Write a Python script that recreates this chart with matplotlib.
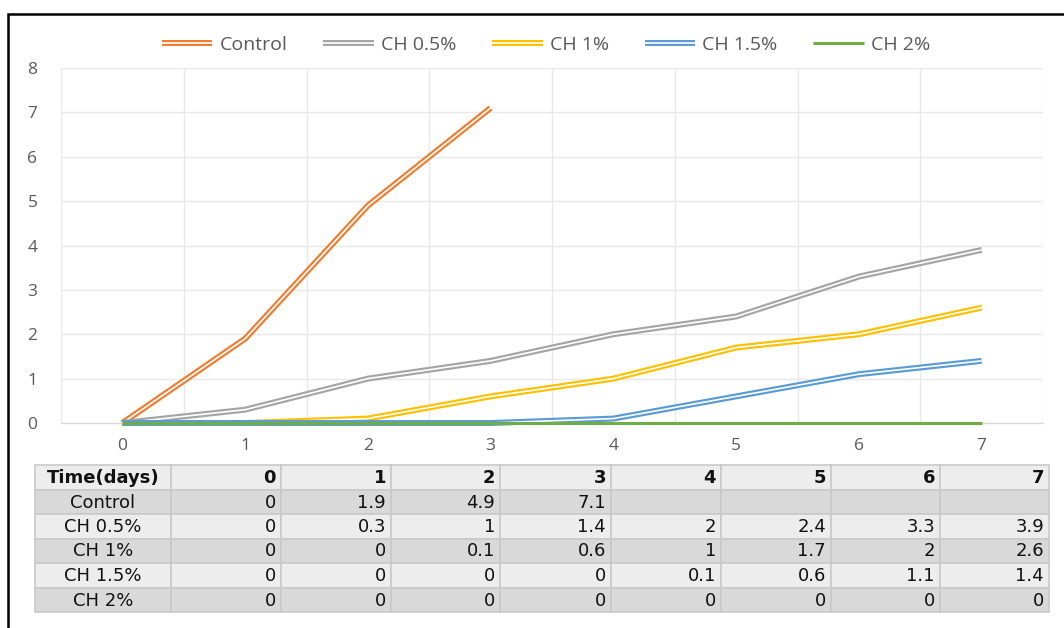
import numpy as np
import matplotlib
matplotlib.use("Agg")
import matplotlib.pyplot as plt
import matplotlib.patheffects as pe
from matplotlib.patches import Rectangle

days = [0, 1, 2, 3, 4, 5, 6, 7]
series_names = ["Control", "CH 0.5%", "CH 1%", "CH 1.5%", "CH 2%"]
control = [0, 1.9, 4.9, 7.1, None, None, None, None]
ch05 = [0, 0.3, 1, 1.4, 2, 2.4, 3.3, 3.9]
ch1 = [0, 0, 0.1, 0.6, 1, 1.7, 2, 2.6]
ch15 = [0, 0, 0, 0, 0.1, 0.6, 1.1, 1.4]
ch2 = [0, 0, 0, 0, 0, 0, 0, 0]
series_values = [control, ch05, ch1, ch15, ch2]
colors = ["#ED7D31", "#A5A5A5", "#FFC000", "#5B9BD5", "#70AD47"]
double_line = [True, True, True, True, False]
yticks = [0, 1, 2, 3, 4, 5, 6, 7, 8]
header_label = "Time(days)"

W, H = 1064, 628
fig = plt.figure(figsize=(W / 100, H / 100), dpi=100)
fig.patch.set_facecolor("white")

def fx(px):
    return px / W

def fy(py):
    return 1 - py / H

# plot area
left, right, top, bottom = 61, 1043, 68, 423
ax = fig.add_axes([fx(left), fy(bottom), fx(right - left), (bottom - top) / H])
ax.set_xlim(-0.5, 7.5)
ax.set_ylim(0, 8)

axis_gray = "#595959"
grid_gray = "#E8E8E8"
font_axis = ["Open Sans", "DejaVu Sans"]

for i, (name, vals, c, dbl) in enumerate(zip(series_names, series_values, colors, double_line)):
    y = np.array([np.nan if v is None else v for v in vals], dtype=float)
    if dbl:
        ax.plot(days, y, color="white", lw=1.2, label=name, zorder=3 + i,
                solid_capstyle="butt", clip_on=False,
                path_effects=[pe.Stroke(linewidth=4.3, foreground=c), pe.Normal()])
    else:
        ax.plot(days, y, color=c, lw=2.2, label=name, zorder=3 + i,
                solid_capstyle="butt", clip_on=False)

ax.set_yticks(yticks)
ax.set_xticks(days)
ax.set_xticks(np.arange(-0.5, 8, 1), minor=True)
ax.grid(True, axis="y", which="major", color=grid_gray, lw=1.0)
ax.grid(True, axis="x", which="minor", color=grid_gray, lw=1.0)
ax.grid(False, axis="x", which="major")
for s in ["top", "right", "left"]:
    ax.spines[s].set_visible(False)
ax.spines["bottom"].set_color("#D9D9D9")
ax.spines["bottom"].set_linewidth(1.0)
ax.spines["bottom"].set_zorder(1)
ax.tick_params(axis="both", which="both", length=0)
ax.tick_params(axis="y", pad=17, labelsize=12.5, labelcolor=axis_gray)
ax.tick_params(axis="x", pad=11, labelsize=12.5, labelcolor=axis_gray)
for lab in ax.get_xticklabels() + ax.get_yticklabels():
    lab.set_family(font_axis)

leg = fig.legend(loc="center", bbox_to_anchor=(fx(546), fy(45)), ncol=5, frameon=False,
                 handlelength=2.6, columnspacing=1.85, handletextpad=0.36,
                 prop={"family": font_axis, "size": 14})
for t in leg.get_texts():
    t.set_color(axis_gray)

# outer black border
fig.add_artist(Rectangle((fx(8), fy(660)), fx(1100), (660 - 14) / H, transform=fig.transFigure,
                         fill=False, ec="black", lw=1.8, zorder=10))

# data table
col_edges = [35, 171, 281, 391, 500, 611, 721, 831, 940, 1049]
row_edges = [465, 490, 514, 539, 563, 588, 612]
row_colors = ["#EDEDED", "#D9D9D9", "#EDEDED", "#D9D9D9", "#EDEDED", "#D9D9D9"]
border_c = "#C9C9C9"
table_font = ["DejaVu Sans"]
txt_c = "#111111"

rows = [[header_label] + [str(d) for d in days]]
for name, vals in zip(series_names, series_values):
    rows.append([name] + ["" if v is None else f"{v:g}" for v in vals])

for r in range(len(rows)):
    y0, y1 = row_edges[r], row_edges[r + 1]
    for c in range(len(col_edges) - 1):
        x0, x1 = col_edges[c], col_edges[c + 1]
        fig.add_artist(Rectangle((fx(x0), fy(y1)), fx(x1 - x0), (y1 - y0) / H,
                                 transform=fig.transFigure, fc=row_colors[r],
                                 ec=border_c, lw=1.2, zorder=1))
        text = rows[r][c]
        if not text:
            continue
        weight = "bold" if (r == 0) else "normal"
        if c == 0:
            fig.text(fx((x0 + x1) / 2), fy((y0 + y1) / 2 + 0.5), text, ha="center", va="center",
                     fontsize=13, fontweight=weight, color=txt_c, family=table_font, zorder=2)
        else:
            fig.text(fx(x1 - 5), fy((y0 + y1) / 2 + 0.5), text, ha="right", va="center",
                     fontsize=13, fontweight=weight, color=txt_c, family=table_font, zorder=2)

fig.savefig("out.png", dpi=100, facecolor="white")
